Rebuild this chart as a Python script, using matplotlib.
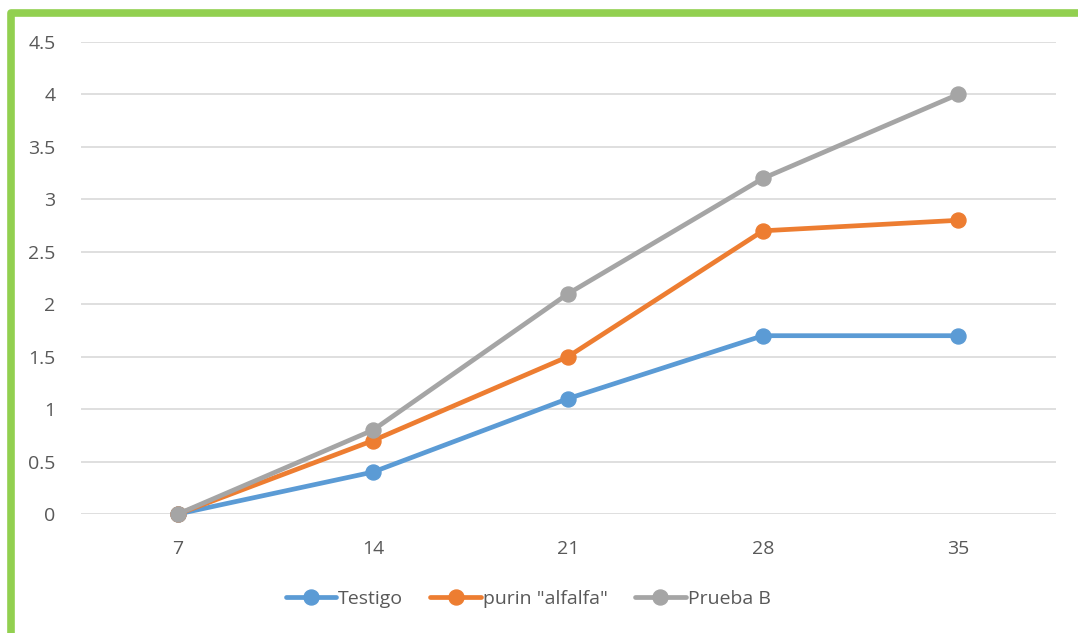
import matplotlib
matplotlib.use("Agg")
import matplotlib.pyplot as plt
from matplotlib.lines import Line2D

days = ["7", "14", "21", "28", "35"]
testigo = [0, 0.4, 1.1, 1.7, 1.7]
purin = [0, 0.7, 1.5, 2.7, 2.8]
prueba_b = [0, 0.8, 2.1, 3.2, 4.0]
series_names = ["Testigo", 'purin "alfalfa"', "Prueba B"]
colors = ["#5B9BD5", "#ED7D31", "#A5A5A5"]
yticks = [0, 0.5, 1, 1.5, 2, 2.5, 3, 3.5, 4, 4.5]
ytick_labels = ["0", "0.5", "1", "1.5", "2", "2.5", "3", "3.5", "4", "4.5"]

plt.rcParams['font.family'] = ['Open Sans', 'DejaVu Sans']
W, H = 1078, 633
fig = plt.figure(figsize=(W / 100, H / 100), dpi=100)

ax = fig.add_axes([80.5 / W, (H - 514) / H, 975 / W, 472 / H])
x = list(range(len(days)))
for vals, name, c in zip([testigo, purin, prueba_b], series_names, colors):
    ax.plot(x, vals, color=c, lw=3.4, marker='o', markersize=10.8,
            solid_capstyle='round', label=name, zorder=3, clip_on=False)

ax.set_xlim(-0.5, len(days) - 0.5)
ax.set_ylim(0, 4.5)
ax.set_xticks(x)
ax.set_xticklabels(days)
ax.set_yticks(yticks)
ax.set_yticklabels(ytick_labels)
ax.grid(axis='y', color='#D9D9D9', lw=1.2)
ax.set_axisbelow(True)
for s in ax.spines.values():
    s.set_visible(False)
ax.tick_params(length=0, labelsize=14, colors='#595959')
ax.tick_params(axis='x', pad=19)
ax.tick_params(axis='y', pad=18)

leg = fig.legend(loc='center', bbox_to_anchor=(528 / W, (H - 599) / H), ncol=3,
                 frameon=False, fontsize=14, handlelength=2.6, handletextpad=0.1,
                 columnspacing=1.4, labelcolor='#595959')

# green border (left and top) with rounded corner
fig.add_artist(Line2D([10.5 / W, 10.5 / W, 1.05], [-0.05, (H - 12.5) / H, (H - 12.5) / H],
                      color='#92D050', lw=5.5, solid_joinstyle='round',
                      transform=fig.transFigure))

fig.savefig("out.png", dpi=100)
